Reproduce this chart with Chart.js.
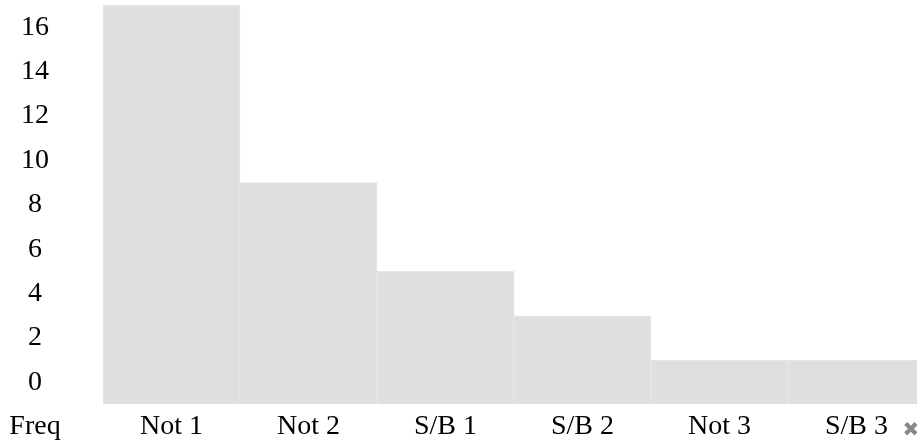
<!DOCTYPE html>
<html>
<head>
<meta charset="utf-8">
<script src="https://cdn.jsdelivr.net/npm/chart.js@4"></script>
<style>
  html, body { margin: 0; padding: 0; background: #fff; overflow: hidden; }
  #wrap { width: 925px; height: 444px; }
</style>
</head>
<body>
<div id="wrap"><canvas id="freqChart"></canvas></div>
<script>
const categories = ["Not 1", "Not 2", "S/B 1", "S/B 2", "Not 3", "S/B 3"];
const freqValues = [17, 9, 5, 3, 1, 1];
const yTicks = [0, 2, 4, 6, 8, 10, 12, 14, 16];
const axisLabel = "Freq";

const font = { family: "'Liberation Serif', 'Times New Roman', serif", size: 28 };

// draws the "Freq" caption under the y labels and the small close mark
const extraText = {
  id: "extraText",
  afterDraw(chart) {
    const ctx = chart.ctx;
    ctx.save();
    ctx.font = font.size + "px " + font.family;
    ctx.fillStyle = "#000";
    ctx.textAlign = "center";
    ctx.textBaseline = "alphabetic";
    ctx.fillText(axisLabel, 35, 434);
    ctx.fillStyle = "#888";
    ctx.textBaseline = "middle";
    ctx.font = "bold 20px 'DejaVu Sans'";
    ctx.fillText("\u2716", 911, 431);
    ctx.restore();
  },
};

const ctx = document.getElementById("freqChart").getContext("2d");
const freqChart = new Chart(ctx, {
  type: "bar",
  data: {
    labels: categories,
    datasets: [
      {
        label: axisLabel,
        data: freqValues,
        base: -0.97,
        backgroundColor: "#dfdfdf",
        borderColor: "#e6e6e6",
        borderWidth: 1,
        categoryPercentage: 1,
        barPercentage: 1,
      },
    ],
  },
  options: {
    responsive: true,
    maintainAspectRatio: false,
    animation: false,
    layout: { padding: { left: 22, top: 5, right: 0, bottom: 0 } },
    plugins: { legend: { display: false }, tooltip: { enabled: false } },
    scales: {
      x: {
        grid: { display: false, drawTicks: false },
        border: { display: false },
        ticks: { color: "#000", font: font, padding: 6, maxRotation: 0 },
        afterFit: (axis) => {
          axis.height = 40;
        },
      },
      y: {
        min: -0.97,
        max: 17,
        grid: {
          display: true,
          color: "rgba(0,0,0,0)",
          drawOnChartArea: false,
          drawTicks: true,
          tickLength: 49,
        },
        border: { display: false },
        afterBuildTicks: (axis) => {
          axis.ticks = yTicks.map((v) => ({ value: v }));
        },
        afterFit: (axis) => {
          axis.width = 81;
          axis.paddingTop = 0;
          axis.paddingBottom = 0;
        },
        ticks: { color: "#000", font: font, padding: 5, crossAlign: "center" },
      },
    },
  },
  plugins: [extraText],
});
</script>
</body>
</html>
